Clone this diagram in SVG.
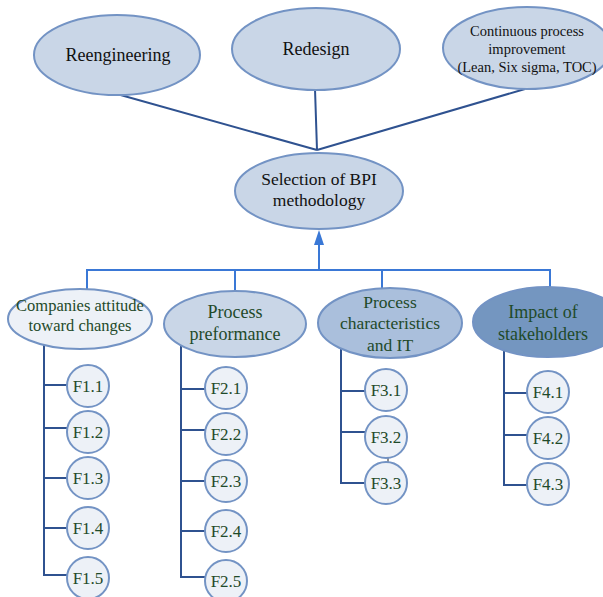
<svg xmlns="http://www.w3.org/2000/svg" width="603" height="597" viewBox="0 0 603 597" font-family="'Liberation Serif', 'Times New Roman', serif">
<style>
.e{stroke:#7393c4;stroke-width:2}
.top{fill:#c9d6e7}
.t{text-anchor:middle}
.k{fill:#111}
.g{fill:#1f4a2a}
.dk{stroke:#2f5290;stroke-width:2;fill:none}
.bl{stroke:#3a78d6;stroke-width:2;fill:none}
.c{fill:#edf1f7;stroke:#7393c4;stroke-width:2}
.f{font-size:17px}
</style>
<g id="connectors">
<path class="dk" d="M117,94 L317,150 M315,89 L317,150 M525,89 L317,150"/>
<path class="bl" d="M319,270 L319,240"/>
<path d="M319,245 L314,245 L319,230 L324,245 Z" fill="#3a78d6"/>
<path class="bl" d="M87,296 L87,270 L550,270 L550,292 M235,270 L235,292 M382,270 L382,290"/>
<path class="dk" d="M44,345 L44,575 L67,575 M44,385 L67,385 M44,428 L67,428 M44,478 L67,478 M44,528 L67,528"/>
<path class="dk" d="M181,346 L181,577 L205,577 M181,389 L205,389 M181,430 L205,430 M181,481 L205,481 M181,531 L205,531"/>
<path class="dk" d="M341,348 L341,483 L365,483 M341,391 L365,391 M341,432 L365,432"/>
<path class="dk" d="M504,350 L504,485 L528,485 M504,393 L528,393 M504,435 L528,435"/>
<path d="M388,457 L388,462" stroke="#222" stroke-width="1"/>
</g>
<g id="reengineering"><ellipse class="e top" cx="117" cy="55" rx="83" ry="40"/><text class="t k" x="118" y="61" font-size="18">Reengineering</text></g>
<g id="redesign"><ellipse class="e top" cx="316" cy="49" rx="84" ry="41"/><text class="t k" x="316" y="55" font-size="18">Redesign</text></g>
<g id="continuous"><ellipse class="e top" cx="527" cy="48" rx="84" ry="41"/>
<text class="t k" font-size="14.5"><tspan x="527" y="36">Continuous process</tspan><tspan x="527" y="54">improvement</tspan><tspan x="527" y="72">(Lean, Six sigma, TOC)</tspan></text></g>
<g id="selection"><ellipse class="e top" cx="319" cy="191" rx="84" ry="38"/>
<text class="t k" font-size="17.5"><tspan x="319" y="185">Selection of BPI</tspan><tspan x="319" y="206">methodology</tspan></text></g>
<g id="attitude"><ellipse class="e" fill="#edf1f7" cx="80" cy="319" rx="72" ry="30"/>
<text class="t g" font-size="16.5"><tspan x="80" y="311">Companies attitude</tspan><tspan x="80" y="331">toward changes</tspan></text></g>
<g id="performance"><ellipse class="e" fill="#c9d6e7" cx="235" cy="324" rx="71" ry="33"/>
<text class="t g" font-size="18"><tspan x="235" y="318">Process</tspan><tspan x="235" y="340">preformance</tspan></text></g>
<g id="characteristics"><ellipse class="e" fill="#aabfdc" cx="390" cy="323" rx="72" ry="35"/>
<text class="t g" font-size="17.5"><tspan x="390" y="308">Process</tspan><tspan x="390" y="329">characteristics</tspan><tspan x="390" y="351">and IT</tspan></text></g>
<g id="stakeholders"><ellipse class="e" fill="#7496c0" cx="548" cy="322" rx="75" ry="35"/>
<text class="t g" font-size="18"><tspan x="543" y="318">Impact of</tspan><tspan x="543" y="340">stakeholders</tspan></text></g>
<g id="F1.1"><circle class="c" cx="88" cy="386" r="21"/><text class="t g f" x="88" y="392">F1.1</text></g>
<g id="F1.2"><circle class="c" cx="88" cy="432" r="21"/><text class="t g f" x="88" y="438">F1.2</text></g>
<g id="F1.3"><circle class="c" cx="88" cy="478" r="21"/><text class="t g f" x="88" y="484">F1.3</text></g>
<g id="F1.4"><circle class="c" cx="88" cy="528" r="21"/><text class="t g f" x="88" y="534">F1.4</text></g>
<g id="F1.5"><circle class="c" cx="88" cy="578" r="21"/><text class="t g f" x="88" y="584">F1.5</text></g>
<g id="F2.1"><circle class="c" cx="226" cy="388" r="21"/><text class="t g f" x="226" y="394">F2.1</text></g>
<g id="F2.2"><circle class="c" cx="226" cy="434" r="21"/><text class="t g f" x="226" y="440">F2.2</text></g>
<g id="F2.3"><circle class="c" cx="226" cy="481" r="21"/><text class="t g f" x="226" y="487">F2.3</text></g>
<g id="F2.4"><circle class="c" cx="226" cy="531" r="21"/><text class="t g f" x="226" y="537">F2.4</text></g>
<g id="F2.5"><circle class="c" cx="226" cy="581" r="21"/><text class="t g f" x="226" y="587">F2.5</text></g>
<g id="F3.1"><circle class="c" cx="386" cy="390" r="21"/><text class="t g f" x="386" y="396">F3.1</text></g>
<g id="F3.2"><circle class="c" cx="386" cy="437" r="21"/><text class="t g f" x="386" y="443">F3.2</text></g>
<g id="F3.3"><circle class="c" cx="386" cy="483" r="21"/><text class="t g f" x="386" y="489">F3.3</text></g>
<g id="F4.1"><circle class="c" cx="548" cy="392" r="21"/><text class="t g f" x="548" y="398">F4.1</text></g>
<g id="F4.2"><circle class="c" cx="548" cy="438" r="21"/><text class="t g f" x="548" y="444">F4.2</text></g>
<g id="F4.3"><circle class="c" cx="548" cy="484" r="21"/><text class="t g f" x="548" y="490">F4.3</text></g>
</svg>
